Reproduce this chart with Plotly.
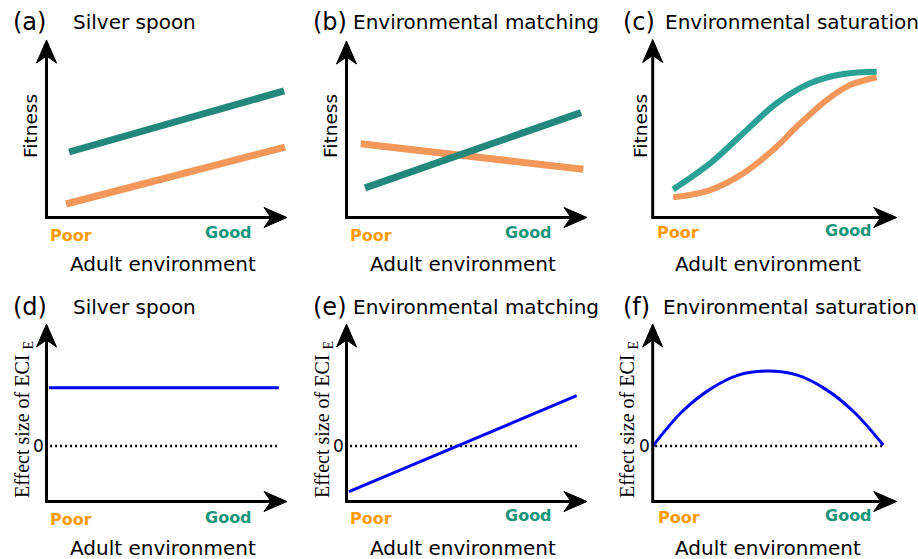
import plotly.graph_objects as go

W, H = 918, 559

# ---- data (x: adult environment, 0 = poor ... 1 = axis end) ----
# (a) Silver spoon: fitness
a_good_x = [0.094, 0.988]
a_good_y = [0.369, 0.713]
a_poor_x = [0.081, 0.992]
a_poor_y = [0.076, 0.397]

# (b) Environmental matching: fitness
b_good_x = [0.077, 0.975]
b_good_y = [0.168, 0.594]
b_poor_x = [0.059, 0.985]
b_poor_y = [0.418, 0.273]

# (c) Environmental saturation: fitness
c_good_x = [0.084, 0.235, 0.371, 0.508, 0.645, 0.781, 0.918]
c_good_y = [0.158, 0.304, 0.473, 0.642, 0.754, 0.806, 0.819]
c_poor_x = [0.084, 0.235, 0.371, 0.508, 0.590, 0.713, 0.809, 0.918]
c_poor_y = [0.113, 0.154, 0.248, 0.398, 0.510, 0.660, 0.744, 0.788]

# (d)-(f): effect size of ECI_E (0 = no effect)
d_x = [0.010, 0.966]
d_y = [0.328, 0.328]
e_x = [0.010, 0.957]
e_y = [-0.258, 0.283]
f_x = [0.001, 0.118, 0.236, 0.354, 0.472, 0.590, 0.708, 0.826, 0.945]
f_y = [0.000, 0.190, 0.320, 0.400, 0.422, 0.400, 0.320, 0.190, 0.005]
zero_x = {"d": [0.015, 0.958], "e": [0.015, 0.958], "f": [0.010, 0.944]}
zero_y = [0, 0]

titles = ["Silver spoon", "Environmental matching", "Environmental saturation"]
letters = ["(a)", "(b)", "(c)", "(d)", "(e)", "(f)"]

TEAL_DARK = "#23877C"
TEAL = "#2AA194"
ORANGE = "#F3975A"
BLUE = "#0000FF"
POOR_C = "#FF9A00"
GOOD_C = "#17967A"

# panel frames in pixels: axis origin (x0, y0) and arrow tips (x1, y1)
frames = [
    (46.5, 287.0, 217.5, 40.0),
    (346.5, 587.0, 217.5, 41.0),
    (652.7, 896.7, 217.5, 39.5),
    (46.5, 287.0, 501.5, 324.0),
    (346.5, 587.0, 501.5, 324.0),
    (652.7, 896.7, 501.5, 324.0),
]
ymins = [0, 0, 0, -0.313, -0.313, -0.313]
PAD = 12

fig = go.Figure()
layout = dict(width=W, height=H, margin=dict(l=0, r=0, t=0, b=0),
              paper_bgcolor="white", plot_bgcolor="white", showlegend=False)
shapes = []
annotations = []

for i, (x0, x1, y0, y1) in enumerate(frames):
    n = "" if i == 0 else str(i + 1)
    sx = x1 - x0
    sy = y0 - y1
    ymin = ymins[i]
    layout["xaxis" + n] = dict(domain=[(x0 - PAD) / W, (x1 + PAD) / W],
                               range=[-PAD / sx, 1 + PAD / sx], visible=False,
                               fixedrange=True, anchor="y" + n)
    layout["yaxis" + n] = dict(domain=[1 - (y0 + PAD) / H, 1 - (y1 - PAD) / H],
                               range=[ymin - PAD / sy, ymin + 1 + PAD / sy],
                               visible=False, fixedrange=True, anchor="x" + n)
    xr, yr = "x" + n, "y" + n
    L, HW, N = 23, 10, 16
    # axis lines
    shapes.append(dict(type="path", xref=xr, yref=yr,
                       path=f"M 0,{ymin + 1 - N / sy} L 0,{ymin} L {1 - N / sx},{ymin}",
                       line=dict(color="black", width=3)))
    # arrowheads
    shapes.append(dict(type="path", xref=xr, yref=yr,
                       path=(f"M 1,{ymin} L {1 - L / sx},{ymin + HW / sy} "
                             f"L {1 - N / sx},{ymin} L {1 - L / sx},{ymin - HW / sy} Z"),
                       fillcolor="black", line=dict(color="black", width=1)))
    shapes.append(dict(type="path", xref=xr, yref=yr,
                       path=(f"M 0,{ymin + 1} L {HW / sx},{ymin + 1 - L / sy} "
                             f"L 0,{ymin + 1 - N / sy} L {-HW / sx},{ymin + 1 - L / sy} Z"),
                       fillcolor="black", line=dict(color="black", width=1)))


def add_line(x, y, color, width, panel, shape="linear", dash="solid", smoothing=1):
    n = "" if panel == 0 else str(panel + 1)
    fig.add_trace(go.Scatter(x=x, y=y, mode="lines", xaxis="x" + n, yaxis="y" + n,
                             line=dict(color=color, width=width, shape=shape, dash=dash,
                                       smoothing=smoothing),
                             hoverinfo="skip"))


add_line(a_poor_x, a_poor_y, ORANGE, 7, 0)
add_line(a_good_x, a_good_y, TEAL_DARK, 7, 0)
add_line(b_poor_x, b_poor_y, ORANGE, 7, 1)
add_line(b_good_x, b_good_y, TEAL_DARK, 7, 1)
add_line(c_poor_x, c_poor_y, ORANGE, 6, 2, shape="spline")
add_line(c_good_x, c_good_y, TEAL, 6, 2, shape="spline")

for p, key in zip([3, 4, 5], ["d", "e", "f"]):
    add_line(zero_x[key], zero_y, "black", 2.5, p, dash="2px,3px")
add_line(d_x, d_y, BLUE, 3, 3)
add_line(e_x, e_y, BLUE, 3, 4)
add_line(f_x, f_y, BLUE, 3, 5, shape="spline")


def txt(x, y, text, size, color="black", family="DejaVu Sans", xanchor="left",
        yanchor="middle", angle=0):
    annotations.append(dict(xref="paper", yref="paper", x=x / W, y=1 - y / H,
                            text=text, showarrow=False, xanchor=xanchor,
                            yanchor=yanchor, textangle=angle,
                            font=dict(size=size, color=color, family=family)))


title_pos = [(10.5, 71, 22), (310.5, 351, 22), (620.5, 663, 22),
             (10.5, 71, 307), (310.5, 351, 307), (620.5, 661, 307)]
for i, (lx, tx, ty) in enumerate(title_pos):
    txt(lx, ty, letters[i], 24)
    txt(tx, ty, titles[i % 3], 20)

poor_pos = [(48, 235), (348, 235), (655, 233), (48, 519), (348, 518), (656, 517)]
good_pos = [(254, 232), (554, 232), (874, 230), (254, 517), (554, 515), (874, 515)]
for (px_, py_), (gx, gy) in zip(poor_pos, good_pos):
    txt(px_, py_, "<b>Poor</b>", 16, POOR_C)
    txt(gx, gy, "<b>Good</b>", 16, GOOD_C, xanchor="right")

for cx, cy in [(163, 264), (463, 264), (768, 264), (163, 548), (463, 548), (768, 548)]:
    txt(cx, cy, "Adult environment", 20, xanchor="center")

for cx in [30, 330, 640]:
    txt(cx, 126, "Fitness", 18.5, xanchor="center", angle=-90)

for cx in [23, 323, 628]:
    txt(cx, 420, "Effect size of ECI <sub>E</sub>", 20, family="Liberation Serif",
        xanchor="center", angle=-90)

for zx in [45.5, 345.5, 652]:
    txt(zx, 446, "0", 17, xanchor="right")

layout["shapes"] = shapes
layout["annotations"] = annotations
fig.update_layout(**layout)
fig.write_html("out.html")
